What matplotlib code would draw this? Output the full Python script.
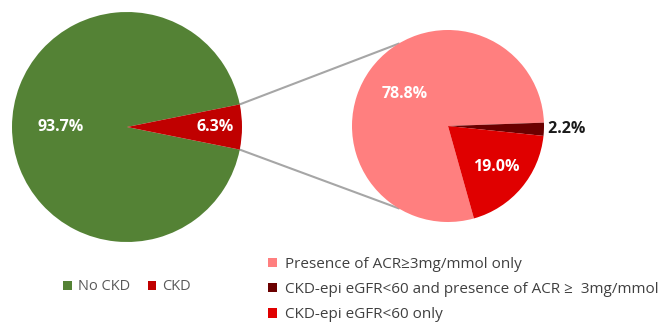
import numpy as np
import matplotlib
matplotlib.use("Agg")
import matplotlib.pyplot as plt
from matplotlib.patches import Patch

plt.rcParams['font.family'] = ['Open Sans', 'DejaVu Sans']

# Data
main_labels = ["No CKD", "CKD"]
main_values = [93.7, 6.3]
sub_labels = ["Presence of ACR\u22653mg/mmol only",
              "CKD-epi eGFR<60 and presence of ACR \u2265  3mg/mmol",
              "CKD-epi eGFR<60 only"]
sub_values = [78.8, 2.2, 19.0]

main_colors = ["#548235", "#C00000"]
sub_colors = ["#FF7F7F", "#6B0000", "#E00000"]

W, H = 669, 335
fig = plt.figure(figsize=(W / 100, H / 100), dpi=100)
ax = fig.add_axes([0, 0, 1, 1])

c1 = (127, 208); r1 = 115
c2 = (448, 209); r2 = 96

start1 = 360 * main_values[1] / 100 / 2
w1, _ = ax.pie(main_values, colors=main_colors, startangle=start1,
               center=c1, radius=r1, frame=True,
               wedgeprops=dict(linewidth=0))
w2, _ = ax.pie(sub_values, colors=sub_colors, startangle=2 + 360 * (sub_values[0]) / 100,
               counterclock=False, center=c2, radius=r2, frame=True,
               wedgeprops=dict(linewidth=0))
ax.set_xlim(0, W)
ax.set_ylim(0, H)
ax.axis('off')


def place(wedge, c, r, frac, text, color, ha='center'):
    ang = np.deg2rad((wedge.theta1 + wedge.theta2) / 2)
    ax.text(c[0] + frac * r * np.cos(ang), c[1] + frac * r * np.sin(ang), text,
            color=color, ha=ha, va='center', fontweight='bold', fontsize=11.5)


place(w1[0], c1, r1, 0.58, f"{main_values[0]:.1f}%", 'white')
place(w1[1], c1, r1, 0.77, f"{main_values[1]:.1f}%", 'white')
place(w2[0], c2, r2, 0.56, f"{sub_values[0]:.1f}%", 'white')
place(w2[1], c2, r2, 1.0, f" {sub_values[1]:.1f}%", '#1a1a1a', ha='left')
place(w2[2], c2, r2, 0.66, f"{sub_values[2]:.1f}%", 'white')

# connector lines
t_top = np.deg2rad(w1[1].theta2)
t_bot = np.deg2rad(w1[1].theta1)
p1 = (c1[0] + r1 * np.cos(t_top), c1[1] + r1 * np.sin(t_top))
p2 = (c1[0] + r1 * np.cos(t_bot), c1[1] + r1 * np.sin(t_bot))
q1 = (c2[0] + r2 * np.cos(np.deg2rad(121)), c2[1] + r2 * np.sin(np.deg2rad(121)))
q2 = (c2[0] + r2 * np.cos(np.deg2rad(239)), c2[1] + r2 * np.sin(np.deg2rad(239)))
ax.plot([p1[0], q1[0]], [p1[1], q1[1]], color='#A6A6A6', lw=1.5, zorder=0.5)
ax.plot([p2[0], q2[0]], [p2[1], q2[1]], color='#A6A6A6', lw=1.5, zorder=0.5)

# legends
h1 = [Patch(facecolor=c, edgecolor='none') for c in main_colors]
leg1 = fig.legend(h1, main_labels, ncol=2, loc='center', bbox_to_anchor=(127 / W, 1 - 287 / H),
                  frameon=False, fontsize=10.5, handlelength=0.6, handleheight=0.6,
                  handletextpad=0.4, columnspacing=1.2, labelcolor='#595959')
h2 = [Patch(facecolor=c, edgecolor='none') for c in sub_colors]
leg2 = fig.legend(h2, sub_labels, ncol=1, loc='upper left', bbox_to_anchor=(254 / W, 1 - 243 / H),
                  frameon=False, fontsize=11, handlelength=0.6, handleheight=0.6,
                  handletextpad=0.55, labelspacing=0.67, labelcolor='#404040')

fig.savefig("out.png", dpi=100)
